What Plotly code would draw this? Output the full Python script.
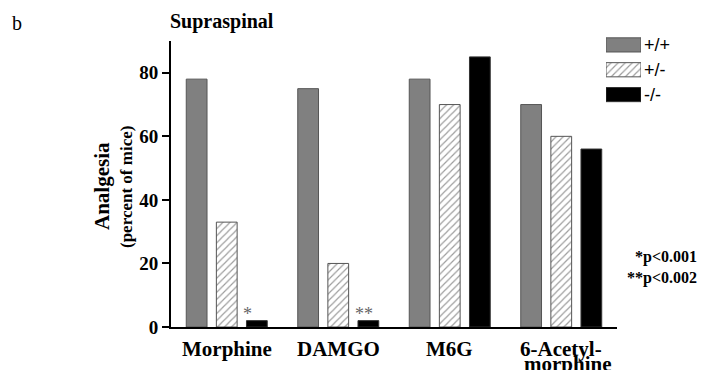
import plotly.graph_objects as go

# ---- data ----
categories = ["Morphine", "DAMGO", "M6G", "6-Acetyl-morphine"]
category_lines = [["Morphine"], ["DAMGO"], ["M6G"], ["6-Acetyl-", "morphine"]]
genotypes = ["+/+", "+/-", "-/-"]
wt_values = [78, 75, 78, 70]     # +/+
het_values = [33, 20, 70, 60]    # +/-
ko_values = [2, 2, 85, 56]       # -/-
y_tick_values = [0, 20, 40, 60, 80]
sig_marks = ["*", "**"]          # over -/- bars of Morphine and DAMGO
sig_categories = [0, 1]
pvalue_text = ["*p<0.001", "**p<0.002"]

SERIF = "Liberation Serif, Times New Roman, serif"
SANS = "Liberation Sans, Arial, sans-serif"

OFF = 8  # page body margin
W, H = 708 - OFF, 370 - OFF
# reference-pixel frame of the paper
P_L, P_R, P_T, P_B = 171, 641, 30, 327
L, T = P_L - OFF, P_T - OFF
R = W - (P_R - OFF)
B = H - (P_B - OFF)
PW, PH = P_R - P_L, P_B - P_T


def px_x(p):
    return (p - P_L) / PW


def px_y(p):
    return (P_B - p) / PH


styles = [
    dict(marker=dict(color="#808080", line=dict(color="#555555", width=1))),
    dict(marker=dict(color="white", line=dict(color="#555555", width=1),
                     pattern=dict(shape="/", fgcolor="#3a3a3a", bgcolor="white",
                                  size=5, solidity=0.24))),
    dict(marker=dict(color="black", line=dict(color="#333333", width=1))),
]

fig = go.Figure()
for name, vals, st in zip(genotypes, [wt_values, het_values, ko_values], styles):
    fig.add_trace(go.Bar(x=categories, y=vals, name=name, showlegend=False,
                         xaxis="x", yaxis="y", **st))

# legend swatches drawn as bars on a small helper subplot
for name, st in zip(genotypes, styles):
    fig.add_trace(go.Bar(y=[name], x=[1], orientation="h", width=0.57, offset=-0.285,
                         showlegend=False, xaxis="x2", yaxis="y2", hoverinfo="skip", **st))

ann = []
# legend texts
for name in genotypes:
    ann.append(dict(xref="x2", yref="y2", x=1, y=name, text=name, showarrow=False,
                    xanchor="left", yanchor="middle", xshift=1,
                    font=dict(family=SANS, size=18, color="black")))

# category labels
for i, lines in enumerate(category_lines):
    for j, line in enumerate(lines):
        ann.append(dict(xref="x", yref="paper", x=i, y=px_y(349), text=f"<b>{line}</b>",
                        showarrow=False, xanchor="center", yanchor="middle",
                        xshift=(7 if j else 0), yshift=-15 * j,
                        font=dict(family=SERIF, size=21, color="black")))

# significance asterisks
sig_offsets = [0.19, 0.23]
for k, (mark, ci) in enumerate(zip(sig_marks, sig_categories)):
    ann.append(dict(xref="x", yref="y", x=ci + sig_offsets[k], y=ko_values[ci], text=mark,
                    showarrow=False, xanchor="center", yanchor="bottom", yshift=-5,
                    font=dict(family=SERIF, size=18, color="#666666")))

# p-value note
ann.append(dict(xref="paper", yref="paper", x=px_x(699), y=px_y(267),
                text="<b>" + "<br>".join(pvalue_text) + "</b>",
                showarrow=False, xanchor="right", yanchor="middle", align="right",
                font=dict(family=SERIF, size=16, color="black")))

# y-axis titles
ann.append(dict(xref="paper", yref="paper", x=px_x(102), y=px_y(186), text="<b>Analgesia</b>",
                textangle=-90, showarrow=False, xanchor="center", yanchor="middle",
                font=dict(family=SERIF, size=21, color="black")))
ann.append(dict(xref="paper", yref="paper", x=px_x(127), y=px_y(187), text="<b>(percent of mice)</b>",
                textangle=-90, showarrow=False, xanchor="center", yanchor="middle",
                font=dict(family=SERIF, size=17, color="black")))

# panel title and letter
ann.append(dict(xref="paper", yref="paper", x=px_x(168), y=px_y(22), text="<b>Supraspinal</b>",
                showarrow=False, xanchor="left", yanchor="middle",
                font=dict(family=SERIF, size=20, color="black")))
ann.append(dict(xref="paper", yref="paper", x=px_x(10), y=px_y(23), text="b",
                showarrow=False, xanchor="left", yanchor="middle",
                font=dict(family=SERIF, size=20, color="black")))

fig.update_layout(
    width=W, height=H,
    margin=dict(l=L, r=R, t=T, b=B, pad=0),
    paper_bgcolor="white", plot_bgcolor="white",
    barmode="group", bargap=0.19, bargroupgap=0.31,
    showlegend=False,
    xaxis=dict(domain=[0, px_x(617)], range=[-0.5, 3.5], showticklabels=False,
               ticks="", showline=True, linecolor="black", linewidth=2,
               showgrid=False, zeroline=False, fixedrange=True),
    yaxis=dict(domain=[0, px_y(41)], range=[0, 90], tickvals=y_tick_values,
               ticks="outside", ticklen=7, tickwidth=2, tickcolor="black",
               showline=True, linecolor="black", linewidth=2, showgrid=False,
               zeroline=False,
               tickfont=dict(family=SERIF, size=19, color="black", weight="bold")),
    xaxis2=dict(domain=[px_x(606), px_x(641)], range=[0, 1], visible=False, anchor="y2"),
    yaxis2=dict(domain=[px_y(107), px_y(32.5)], range=[2.5, -0.5], visible=False,
                anchor="x2", type="category", categoryorder="array", categoryarray=genotypes),
    annotations=ann,
)

fig.write_html("out.html")
